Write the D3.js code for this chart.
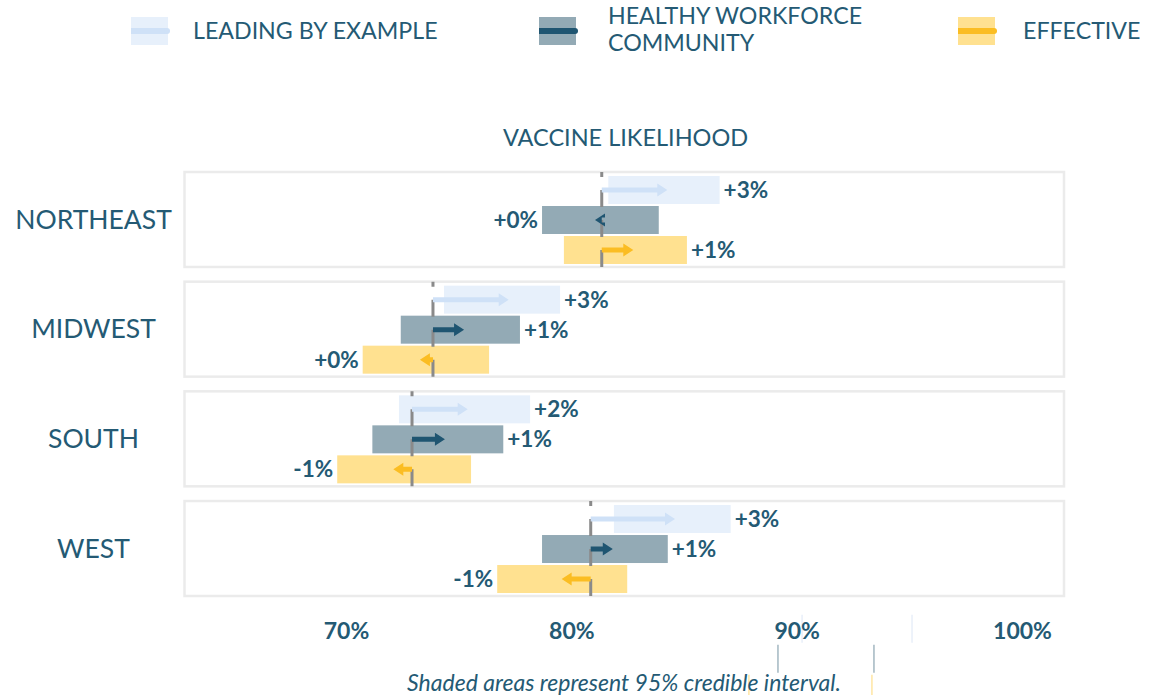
<!DOCTYPE html>
<html>
<head>
<meta charset="utf-8">
<script src="https://cdn.jsdelivr.net/npm/d3@7"></script>
<style>
  html, body { margin: 0; padding: 0; background: #ffffff; }
  svg { display: block; font-family: Lato, "Open Sans", sans-serif; }
</style>
</head>
<body>
<svg id="chart" width="1150" height="695"></svg>
<script>
// ============================================================
// Data
// ============================================================
const regions = ["NORTHEAST", "MIDWEST", "SOUTH", "WEST"];
const seriesNames = ["LEADING BY EXAMPLE", "HEALTHY WORKFORCE COMMUNITY", "EFFECTIVE"];
const xTicks = [70, 80, 90, 100];

// likelihood without any message (dashed line), per region
const baseline = [81.35, 73.86, 72.93, 80.86];

// leading by example
const lbeLow   = [81.64, 74.35, 72.35, 81.89];
const lbeHigh  = [86.58, 79.50, 78.17, 87.07];
const lbeEst   = [84.26, 77.22, 75.40, 84.60];
const lbeLabel = ["+3%", "+3%", "+2%", "+3%"];

// healthy workforce community
const hwcLow   = [78.70, 72.43, 71.17, 78.70];
const hwcHigh  = [83.88, 77.72, 76.98, 84.28];
const hwcEst   = [81.05, 75.24, 74.39, 81.84];
const hwcLabel = ["+0%", "+1%", "+1%", "+1%"];

// effective
const effLow   = [79.67, 70.74, 69.61, 76.71];
const effHigh  = [85.13, 76.35, 75.55, 82.48];
const effEst   = [82.75, 73.28, 72.10, 79.57];
const effLabel = ["+1%", "+0%", "-1%", "-1%"];

// faint interval edges left under the axis (one per series)
const ghostLow  = [90.24, 89.17, 87.88];
const ghostHigh = [95.12, 93.43, 93.34];

// ============================================================
// Colours
// ============================================================
const TEXT = "#245a74";
const COLORS = [
    { bar: "#e7f0fb", arrow: "#cfe1f7", ghost: "#e8eff9" },   // leading by example
    { bar: "#93aab5", arrow: "#1f5571", ghost: "#a3b7c1" },   // healthy workforce
    { bar: "#ffe190", arrow: "#fbbd22", ghost: "#ffe6a3" },   // effective
];

// build one row object per region
const rows = regions.map(function (r, i) {
    return {
        region: r,
        base: baseline[i],
        series: [
            { lo: lbeLow[i], hi: lbeHigh[i], est: lbeEst[i], label: lbeLabel[i] },
            { lo: hwcLow[i], hi: hwcHigh[i], est: hwcEst[i], label: hwcLabel[i] },
            { lo: effLow[i], hi: effHigh[i], est: effEst[i], label: effLabel[i] }
        ]
    };
});

const svg = d3.select("#chart");

// scales
const x = d3.scaleLinear().domain([70, 100]).range([346, 1022]);
const y = d3.scaleBand().domain(regions).range([172, 596]).paddingInner(0.134);
const ySub = d3.scaleBand().domain([0, 1, 2]).range([4, 92]).paddingInner(2 / 30);

const boxLeft = 184.5, boxRight = 1064;

// ============================================================
// Legend
// ============================================================
const legendX = [131, 539, 958];
const legend = svg.append("g").attr("class", "legend");
seriesNames.forEach(function (name, i) {
    const g = legend.append("g").attr("transform", "translate(" + legendX[i] + ",0)");
    g.append("rect").attr("x", 0).attr("y", 17).attr("width", 37).attr("height", 28)
        .attr("fill", COLORS[i].bar);
    g.append("line").attr("x1", 0).attr("x2", 36).attr("y1", 31).attr("y2", 31)
        .attr("stroke", COLORS[i].arrow).attr("stroke-width", 6);
    g.append("circle").attr("cx", 36).attr("cy", 31).attr("r", 3).attr("fill", COLORS[i].arrow);
});
legend.append("text").attr("x", 193).attr("y", 31).attr("dy", "0.35em")
    .attr("font-size", 23.2).attr("fill", TEXT).text("LEADING BY EXAMPLE");
legend.append("text").attr("x", 608).attr("y", 16).attr("dy", "0.35em")
    .attr("font-size", 23.2).attr("fill", TEXT).text("HEALTHY WORKFORCE");
legend.append("text").attr("x", 608).attr("y", 43).attr("dy", "0.35em")
    .attr("font-size", 23.2).attr("fill", TEXT).text("COMMUNITY");
legend.append("text").attr("x", 1023).attr("y", 31).attr("dy", "0.35em")
    .attr("font-size", 23.2).attr("fill", TEXT).text("EFFECTIVE");

// title
svg.append("text").attr("x", 625.5).attr("y", 138).attr("dy", "0.35em")
    .attr("text-anchor", "middle").attr("font-size", 23.5).attr("fill", TEXT)
    .text("VACCINE LIKELIHOOD");

// ============================================================
// Faint interval edges below the last row
// ============================================================
const ghostTop = y("WEST") + y.step();
const ghost = svg.append("g").attr("class", "ghost");
[0, 1, 2].forEach(function (i) {
    [ghostLow[i], ghostHigh[i]].forEach(function (v) {
        ghost.append("line")
            .attr("x1", x(v)).attr("x2", x(v))
            .attr("y1", ghostTop + ySub(i)).attr("y2", ghostTop + ySub(i) + ySub.bandwidth())
            .attr("stroke", COLORS[i].ghost).attr("stroke-width", 1.5);
    });
});

// ============================================================
// Axis (tick labels only)
// ============================================================
const axis = svg.append("g").attr("transform", "translate(0,631)")
    .call(d3.axisBottom(x).tickValues(xTicks).tickSize(0).tickFormat(function (d) { return d + "%"; }));
axis.select(".domain").remove();
axis.selectAll("text")
    .attr("y", 0).attr("dy", "0.35em")
    .attr("font-family", "Lato, sans-serif")
    .attr("font-size", 23).attr("font-weight", "bold").attr("fill", TEXT);

// ============================================================
// Rows
// ============================================================
const rowG = svg.selectAll("g.row").data(rows).enter().append("g")
    .attr("class", "row")
    .attr("transform", function (d) { return "translate(0," + y(d.region) + ")"; });

// region name
rowG.append("text")
    .attr("x", 93.5).attr("y", y.bandwidth() / 2).attr("dy", "0.35em")
    .attr("text-anchor", "middle").attr("font-size", 26.5).attr("fill", TEXT)
    .text(function (d) { return d.region; });

// box
rowG.append("rect")
    .attr("x", boxLeft).attr("y", 0)
    .attr("width", boxRight - boxLeft).attr("height", y.bandwidth())
    .attr("fill", "none").attr("stroke", "#ebebeb").attr("stroke-width", 2.5);

// credible interval bars
rowG.selectAll("rect.ci").data(function (d) { return d.series; }).enter().append("rect")
    .attr("class", "ci")
    .attr("x", function (d) { return x(d.lo); })
    .attr("y", function (d, i) { return ySub(i); })
    .attr("width", function (d) { return x(d.hi) - x(d.lo); })
    .attr("height", ySub.bandwidth())
    .attr("fill", function (d, i) { return COLORS[i].bar; });

// dashed baseline (dashes start at each bar's centre)
rowG.append("line")
    .attr("x1", function (d) { return x(d.base); })
    .attr("x2", function (d) { return x(d.base); })
    .attr("y1", 0).attr("y2", y.bandwidth())
    .attr("stroke", "#8a8a8a").attr("stroke-width", 3)
    .attr("stroke-dasharray", "5 13 17 13 17 13 17");

// arrows from baseline to estimate
function arrowPath(x0, x1, cy) {
    const dir = x1 >= x0 ? 1 : -1;
    const hl = 10, hw = 6.5, sw = 2.5;
    const hb = x1 - dir * hl;
    return "M" + x0 + "," + (cy - sw) +
        "L" + hb + "," + (cy - sw) +
        "L" + hb + "," + (cy - hw) +
        "L" + x1 + "," + cy +
        "L" + hb + "," + (cy + hw) +
        "L" + hb + "," + (cy + sw) +
        "L" + x0 + "," + (cy + sw) + "Z";
}
rowG.each(function (row) {
    const g = d3.select(this);
    row.series.forEach(function (s, i) {
        const cy = ySub(i) + ySub.bandwidth() / 2;
        g.append("path")
            .attr("d", arrowPath(x(row.base), x(s.est), cy))
            .attr("fill", COLORS[i].arrow);

        const right = s.est >= row.base;
        g.append("text")
            .attr("x", right ? x(s.hi) + 4 : x(s.lo) - 4)
            .attr("y", cy).attr("dy", "0.35em")
            .attr("text-anchor", right ? "start" : "end")
            .attr("font-size", 22.5).attr("font-weight", "bold").attr("fill", TEXT)
            .text(s.label);
    });
});

// footnote
svg.append("text").attr("x", 624).attr("y", 683).attr("dy", "0.35em")
    .attr("text-anchor", "middle").attr("font-size", 23).attr("font-style", "italic")
    .attr("fill", TEXT).text("Shaded areas represent 95% credible interval.");
</script>
</body>
</html>
